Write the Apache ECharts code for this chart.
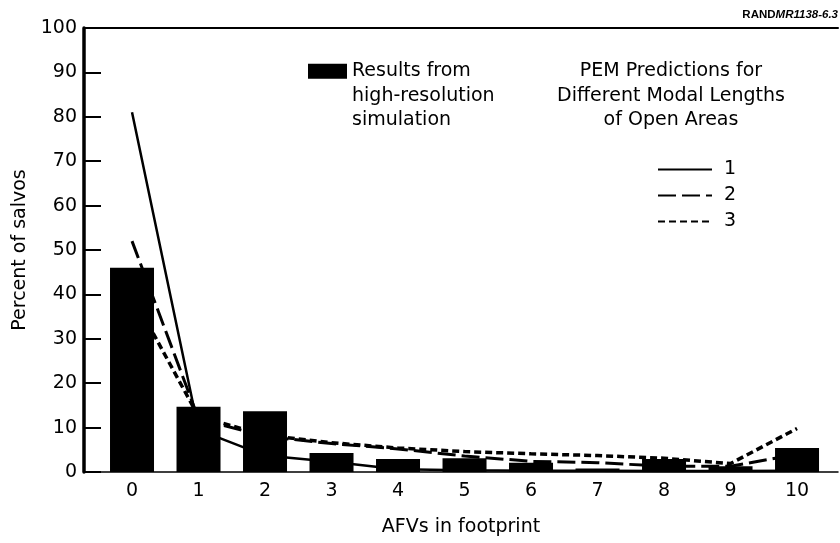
<!DOCTYPE html>
<html>
<head>
<meta charset="utf-8">
<script src="https://cdn.jsdelivr.net/npm/echarts@6/dist/echarts.min.js"></script>
<style>html,body{margin:0;padding:0;background:#fff;}#chart{width:840px;height:543px;}</style>
</head>
<body>
<div id="chart"></div>
<script>
const categories = [0, 1, 2, 3, 4, 5, 6, 7, 8, 9, 10];
const simResults = [46, 14.7, 13.7, 4.3, 2.9, 3.1, 2.1, 0.8, 2.9, 1.3, 5.4];
const pem1 = [81, 9.5, 3.7, 2.3, 0.6, 0.4, 0.3, 0.3, 0.2, 0.2, 0.3];
const pem2 = [52, 12, 8, 6.4, 5.2, 3.6, 2.4, 2.1, 1.3, 1.3, 4];
const pem3 = [40, 12.5, 8.3, 6.6, 5.4, 4.6, 4.1, 3.7, 3.1, 1.9, 9.8];
const barName = 'Results from\nhigh-resolution\nsimulation';
const lineNames = ['1', '2', '3'];
const legendTitle = 'PEM Predictions for\nDifferent Modal Lengths\nof Open Areas';
const xTitle = 'AFVs in footprint';
const yTitle = 'Percent of salvos';

const FONT = 'DejaVu Sans';
const pair = (vals) => categories.map((c, i) => [c, vals[i]]);

const chart = echarts.init(document.getElementById('chart'), null, {renderer: 'canvas'});
chart.setOption({
  animation: false,
  backgroundColor: '#fff',
  textStyle: {fontFamily: FONT, color: '#000'},
  title: [
    {
      text: '{b|RAND}{i|MR1138-6.3}',
      right: 2, top: 9, padding: 0,
      textStyle: {
        rich: {
          b: {fontFamily: 'Liberation Sans', fontWeight: 'bold', fontSize: 11.5, color: '#000'},
          i: {fontFamily: 'Liberation Sans', fontStyle: 'italic', fontSize: 11.5, color: '#000'}
        }
      }
    },
    {
      text: legendTitle,
      left: 671, top: 59, padding: 0,
      textAlign: 'center',
      textStyle: {fontFamily: FONT, fontSize: 19, fontWeight: 'normal', color: '#000', lineHeight: 24.5}
    }
  ],
  legend: [
    {
      data: [barName],
      left: 308, top: 10, padding: 0,
      icon: 'rect', itemWidth: 39, itemHeight: 15,
      selectedMode: false,
      formatter: (name) => '\n\n' + name,
      textStyle: {fontFamily: FONT, fontSize: 19, color: '#000', lineHeight: 24.5}
    },
    {
      data: lineNames,
      orient: 'vertical',
      left: 657, top: 160, padding: 0,
      itemWidth: 54, itemHeight: 14, itemGap: 7,
      selectedMode: false,
      itemStyle: {color: 'rgba(0,0,0,0)', borderWidth: 0, opacity: 0},
      textStyle: {fontFamily: FONT, fontSize: 19, color: '#000', padding: [0, 0, 0, 7]}
    }
  ],
  grid: {left: 84, right: 2, top: 28, bottom: 71, containLabel: false},
  xAxis: [
    {
      type: 'value', min: -0.722, max: 10.616,
      name: xTitle, nameLocation: 'middle', nameGap: 46,
      nameTextStyle: {fontFamily: FONT, fontSize: 19, color: '#000'},
      axisLine: {show: true, onZero: false, lineStyle: {color: '#000', width: 1.5}},
      axisTick: {show: false},
      splitLine: {show: false},
      axisLabel: {customValues: categories, fontFamily: FONT, fontSize: 19, color: '#000', margin: 10}
    },
    {
      type: 'value', position: 'top', min: -0.722, max: 10.616,
      axisLine: {show: true, onZero: false, lineStyle: {color: '#000', width: 2}},
      axisTick: {show: false}, axisLabel: {show: false}, splitLine: {show: false}
    }
  ],
  yAxis: {
    type: 'value', min: 0, max: 100, interval: 10, position: 'left',
    name: yTitle, nameLocation: 'middle', nameGap: 54,
    nameTextStyle: {fontFamily: FONT, fontSize: 19, color: '#000'},
    axisLine: {show: true, onZero: false, lineStyle: {color: '#000', width: 3.5}},
    axisTick: {show: true, inside: true, length: 17, lineStyle: {color: '#000', width: 2}},
    splitLine: {show: false},
    axisLabel: {fontFamily: FONT, fontSize: 19, color: '#000', margin: 7}
  },
  series: [
    {
      name: lineNames[0], type: 'line', data: pair(pem1), symbol: 'none', z: 2,
      lineStyle: {color: '#000', width: 2.5, type: 'solid'}
    },
    {
      name: lineNames[1], type: 'line', data: pair(pem2), symbol: 'none', z: 2,
      lineStyle: {color: '#000', width: 3, type: [18, 6]}
    },
    {
      name: lineNames[2], type: 'line', data: pair(pem3), symbol: 'none', z: 2,
      lineStyle: {color: '#000', width: 3.5, type: [7, 4]}
    },
    {
      name: barName, type: 'bar', data: pair(simResults), barWidth: 44, z: 3,
      itemStyle: {color: '#000'}
    }
  ]
});
</script>
</body>
</html>
